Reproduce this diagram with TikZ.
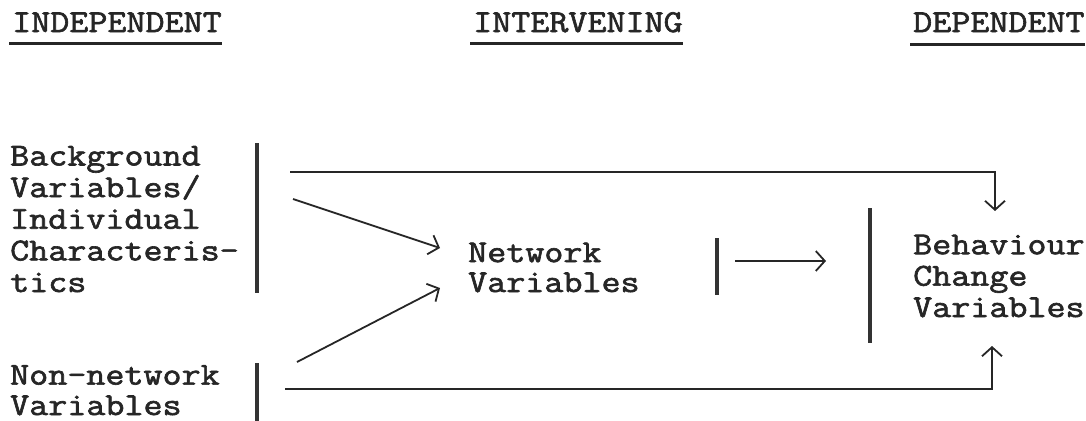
\documentclass[tikz,border=0pt]{standalone}
\usepackage{fontspec}
\setmonofont{Latin Modern Mono}[FakeStretch=1.16,FakeBold=2]
\usetikzlibrary{arrows.meta}
\begin{document}
\begin{tikzpicture}[x=1bp,y=-1bp,
  lbl/.style={font=\ttfamily\fontsize{32}{31.5}\selectfont, inner sep=0, align=left, anchor=base west, text=black!85},
  barnode/.style={fill=black!80, minimum width=4.5bp, inner sep=0, draw=none},
  ln/.style={line width=1.8bp, draw=black!85},
  arr/.style={ln, -{Straight Barb[length=9bp,width=20bp,line width=1.8bp]}},
  uline/.style={line width=3bp, draw=black!85}]
\useasboundingbox (0,0) rectangle (1086,420);
% headers
\node[lbl] (indep) at (12,32) {INDEPENDENT};
\node[lbl] (interv) at (473,32) {INTERVENING};
\node[lbl] (dep) at (913,32) {DEPENDENT};
\draw[uline] ([xshift=-3bp,yshift=-11bp]indep.base west) -- ([yshift=-11bp]indep.base east);
\draw[uline] ([xshift=-3bp,yshift=-11bp]interv.base west) -- ([yshift=-11bp]interv.base east);
\draw[uline] ([xshift=-3bp,yshift=-12bp]dep.base west) -- ([yshift=-12bp]dep.base east);
% texts (base anchor = last line)
\node[lbl] (bg) at (10,292) {Background\\[0.25bp]Variables/\\[0.25bp]Individual\\[0.25bp]Characteris-\\[0.25bp]tics};
\node[lbl] (nonnet) at (10,415) {Non-network\\[-1bp]Variables};
\node[lbl] (netw) at (468,292) {Network\\[-1.5bp]Variables};
\node[lbl] (behav) at (913,317) {Behaviour\\Change\\Variables};
% bars
\node[barnode, minimum height=150bp] (b1) at (257,218) {};
\node[barnode, minimum height=60bp] (b4) at (257,393) {};
\node[barnode, minimum height=57bp] (b2) at (717,266.5) {};
\node[barnode, minimum height=135bp] (b3) at (870,275.5) {};
% connector ends
\coordinate (t0) at (290,172);
\coordinate (t1) at (995,211);
\coordinate (u0) at (285,389);
\coordinate (u1) at (992,346);
\coordinate (a0) at (293,199);
\coordinate (a1) at (440,248);
\coordinate (c0) at (297,362);
\coordinate (c1) at (440,288);
\coordinate (m0) at (735,261);
\coordinate (m1) at (826,261);
% connectors
\draw[arr] (t0) -| (t1);
\draw[arr] (u0) -| (u1);
\draw[arr] (a0) -- (a1);
\draw[arr] (c0) -- (c1);
\draw[arr] (m0) -- (m1);
\end{tikzpicture}
\end{document}
